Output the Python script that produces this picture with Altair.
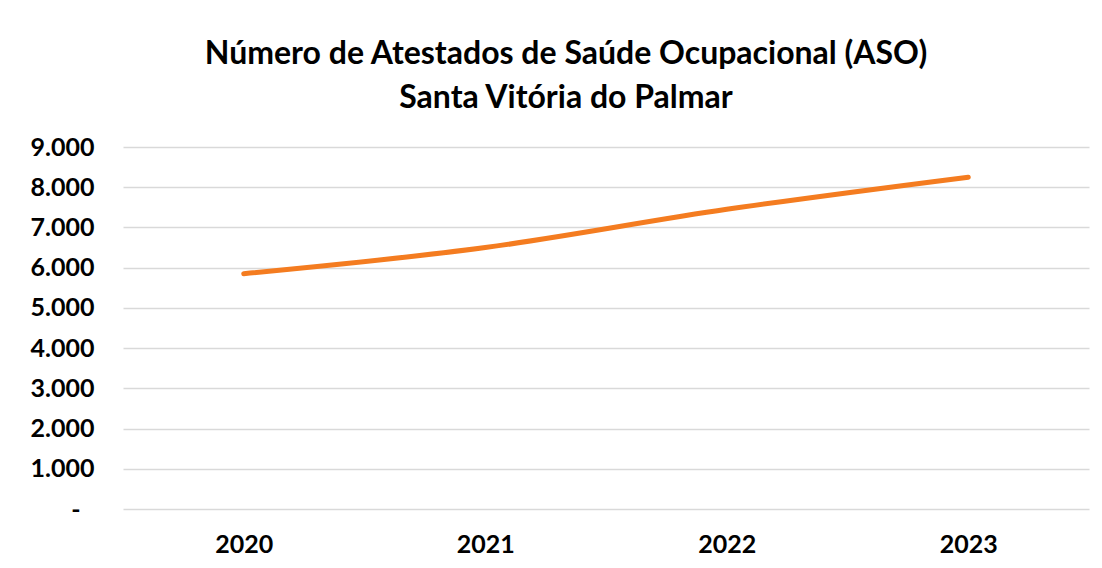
import altair as alt
import pandas as pd

years = ["2020", "2021", "2022", "2023"]
values = [5850, 6500, 7450, 8250]

df = pd.DataFrame({"Ano": years, "ASO": values})

FONT = "Lato"

chart = alt.Chart(df).mark_line(
    color="#F47C20", strokeWidth=5, strokeCap="round", strokeJoin="round",
    interpolate="monotone"
).encode(
    x=alt.X("Ano:N", sort=years, title=None,
            scale=alt.Scale(type="point", padding=0.5),
            axis=alt.Axis(labelAngle=0, labelFont=FONT, labelFontSize=25,
                          labelFontWeight="bold", labelColor="#000000",
                          labelPadding=23, ticks=False, domain=False, grid=False)),
    y=alt.Y("ASO:Q", title=None,
            scale=alt.Scale(domain=[0, 9000], nice=False),
            axis=alt.Axis(values=list(range(0, 9001, 1000)),
                          labelExpr="datum.value == 0 ? '-' : replace(format(datum.value, ','), ',', '.')",
                          labelFont=FONT, labelFontSize=25, labelFontWeight="bold",
                          labelColor="#000000",
                          labelPadding={"condition": {"test": "datum.value == 0", "value": 43}, "value": 29},
                          ticks=False, domain=False,
                          gridColor="#d9d9d9", gridWidth=1.5)),
).properties(
    width=966, height=362,
    background="#ffffff",
    title=alt.TitleParams(
        text=["Número de Atestados de Saúde Ocupacional (ASO)", "Santa Vitória do Palmar"],
        font=FONT, fontSize=32, fontWeight="bold", color="#000000",
        lineHeight=44, anchor="middle", dx=-40, offset=20),
    autosize=alt.AutoSizeParams(type="none"),
    padding={"left": 115, "top": 139, "right": 5, "bottom": 50},
).configure_view(stroke=None)

chart.save("out.html", embed_options={"renderer": "svg", "actions": False})
